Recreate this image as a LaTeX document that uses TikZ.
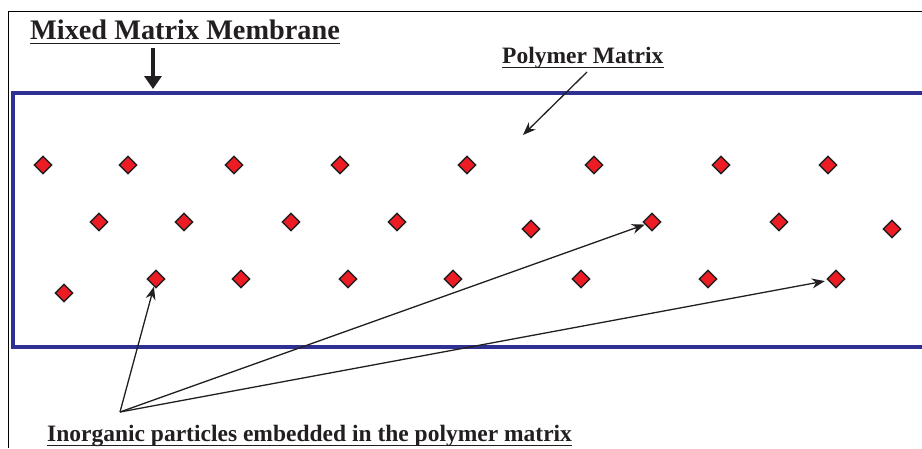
\documentclass[tikz,border=0pt]{standalone}
\usepackage{fontspec}
\setmainfont{Liberation Serif}
\usetikzlibrary{shapes.geometric,arrows.meta}
\definecolor{mblue}{RGB}{46,49,146}
\definecolor{mred}{RGB}{237,28,36}
\definecolor{mtext}{RGB}{35,31,32}
\tikzset{
  particle/.style={diamond, aspect=1, inner sep=0pt, minimum width=18pt, minimum height=18pt,
    fill=mred, draw=mtext, line width=1.4pt},
  lbl/.style={anchor=base west, inner sep=0pt, text=mtext, font=\bfseries\fontsize{23.5}{26}\selectfont},
  ptr/.style={draw=mtext, line width=1.3pt, -{Stealth[length=13pt,width=10pt]}},
  uline/.style={draw=mtext, line width=1.4pt}
}
\begin{document}
\begin{tikzpicture}[x=1pt,y=-1pt]
\useasboundingbox (0,0) rectangle (922,448);
% outer frame
\draw[line width=0.8pt, black] (8,448) -- (8,11) -- (922,11);
% membrane
\draw[mblue, line width=4pt] (935,93) -- (13,93) -- (13,347) -- (935,347);
% title
\node[lbl, font=\bfseries\fontsize{28.3}{30}\selectfont] (title) at (30,39) {Mixed Matrix Membrane};
\draw[uline] ([yshift=-4.5pt]title.base west) -- ([yshift=-4.5pt]title.base east);
\coordinate (mmA) at (153,48);
\coordinate (mmB) at (153,89);
\draw[mtext, line width=4pt, -{Triangle[width=17pt,length=13pt]}] (mmA) -- (mmB);
% polymer matrix
\node[lbl] (pm) at (502,63) {Polymer Matrix};
\draw[uline] ([yshift=-4.5pt]pm.base west) -- ([yshift=-4.5pt]pm.base east);
\coordinate (pmA) at (587,72);
\coordinate (pmB) at (523,135);
\draw[ptr] (pmA) -- (pmB);
% particles
\foreach \x [count=\i] in {43,128,234,340,467,594,721,828}
  \node[particle] (a\i) at (\x,165) {};
\foreach \x/\y [count=\i] in {99/222,184/222,291/222,397/222,531/229,652/222,779/222,892/229}
  \node[particle] (b\i) at (\x,\y) {};
\foreach \x/\y [count=\i] in {64/293,156/279,241/279,348/279,453/279,581/279,708/279,836/279}
  \node[particle] (c\i) at (\x,\y) {};
% inorganic label
\node[lbl] (inorg) at (47,441) {Inorganic particles embedded in the polymer matrix};
\draw[uline] ([yshift=-4.3pt]inorg.base west) -- ([yshift=-4.3pt]inorg.base east);
\coordinate (src) at (120,412);
\draw[ptr] (src) -- (c2);
\draw[ptr] (src) -- (b6);
\draw[ptr, shorten >=3pt] (src) -- (c8);
\end{tikzpicture}
\end{document}
